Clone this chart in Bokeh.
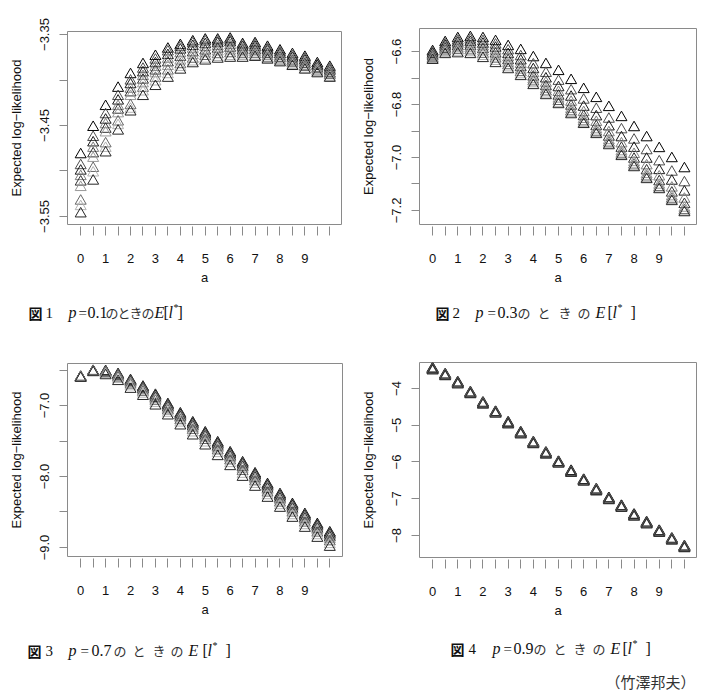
from bokeh.plotting import figure
from bokeh.models import FixedTicker, ColumnDataSource, Range1d
from bokeh.core.properties import value
from bokeh.layouts import column, row
from bokeh.embed import file_html
from bokeh.resources import INLINE

# ---------------- data ----------------
a_values = [0, 0.5, 1, 1.5, 2, 2.5, 3, 3.5, 4, 4.5, 5, 5.5, 6, 6.5, 7, 7.5, 8, 8.5, 9, 9.5, 10]
x_tick_values = a_values
x_tick_labels = ["0", "", "1", "", "2", "", "3", "", "4", "", "5", "", "6", "", "7", "", "8", "", "9", "", ""]

# p = 0.1
loglik_p01 = [
    [-3.482, -3.494, -3.500, -3.506, -3.512, -3.518, -3.533, -3.539, -3.547],
    [-3.452, -3.463, -3.469, -3.475, -3.481, -3.486, -3.497, -3.502, -3.511],
    [-3.429, -3.438, -3.444, -3.449, -3.454, -3.458, -3.470, -3.475, -3.480],
    [-3.409, -3.418, -3.423, -3.429, -3.433, -3.437, -3.446, -3.450, -3.456],
    [-3.394, -3.401, -3.405, -3.410, -3.414, -3.418, -3.428, -3.432, -3.435],
    [-3.383, -3.388, -3.392, -3.396, -3.400, -3.404, -3.409, -3.413, -3.418],
    [-3.374, -3.378, -3.382, -3.386, -3.390, -3.393, -3.398, -3.402, -3.407],
    [-3.366, -3.369, -3.373, -3.377, -3.381, -3.385, -3.390, -3.394, -3.398],
    [-3.362, -3.364, -3.367, -3.371, -3.375, -3.379, -3.383, -3.386, -3.389],
    [-3.358, -3.360, -3.363, -3.366, -3.370, -3.373, -3.377, -3.380, -3.382],
    [-3.356, -3.358, -3.361, -3.364, -3.368, -3.371, -3.374, -3.377, -3.379],
    [-3.356, -3.358, -3.360, -3.363, -3.366, -3.369, -3.372, -3.375, -3.377],
    [-3.355, -3.357, -3.359, -3.362, -3.365, -3.368, -3.371, -3.374, -3.376],
    [-3.361, -3.362, -3.364, -3.366, -3.368, -3.370, -3.372, -3.374, -3.376],
    [-3.360, -3.362, -3.364, -3.366, -3.368, -3.370, -3.372, -3.374, -3.375],
    [-3.364, -3.366, -3.368, -3.370, -3.372, -3.374, -3.376, -3.377, -3.378],
    [-3.368, -3.370, -3.372, -3.374, -3.376, -3.377, -3.379, -3.380, -3.381],
    [-3.372, -3.374, -3.376, -3.378, -3.380, -3.381, -3.382, -3.384, -3.385],
    [-3.375, -3.377, -3.379, -3.381, -3.383, -3.385, -3.386, -3.388, -3.389],
    [-3.382, -3.384, -3.385, -3.387, -3.388, -3.389, -3.391, -3.392, -3.393],
    [-3.386, -3.388, -3.390, -3.391, -3.393, -3.394, -3.395, -3.397, -3.398],
]

# p = 0.3
loglik_p03 = [
    [-6.600, -6.605, -6.610, -6.615, -6.620, -6.625, -6.628, -6.631, -6.633],
    [-6.566, -6.574, -6.580, -6.586, -6.591, -6.596, -6.601, -6.606, -6.611],
    [-6.551, -6.560, -6.568, -6.575, -6.582, -6.589, -6.595, -6.602, -6.608],
    [-6.547, -6.556, -6.565, -6.573, -6.581, -6.589, -6.597, -6.604, -6.611],
    [-6.551, -6.562, -6.572, -6.582, -6.592, -6.601, -6.610, -6.618, -6.626],
    [-6.562, -6.575, -6.587, -6.598, -6.609, -6.619, -6.628, -6.637, -6.645],
    [-6.581, -6.597, -6.611, -6.623, -6.634, -6.644, -6.653, -6.661, -6.668],
    [-6.596, -6.619, -6.635, -6.648, -6.660, -6.670, -6.679, -6.687, -6.694],
    [-6.623, -6.650, -6.668, -6.683, -6.696, -6.706, -6.714, -6.721, -6.728],
    [-6.649, -6.682, -6.703, -6.719, -6.732, -6.743, -6.752, -6.760, -6.766],
    [-6.675, -6.712, -6.736, -6.754, -6.768, -6.779, -6.788, -6.795, -6.800],
    [-6.709, -6.748, -6.772, -6.791, -6.806, -6.818, -6.827, -6.833, -6.838],
    [-6.743, -6.783, -6.810, -6.830, -6.845, -6.856, -6.865, -6.871, -6.875],
    [-6.777, -6.818, -6.846, -6.867, -6.883, -6.895, -6.904, -6.909, -6.913],
    [-6.811, -6.855, -6.884, -6.906, -6.923, -6.936, -6.945, -6.951, -6.955],
    [-6.849, -6.895, -6.925, -6.948, -6.965, -6.978, -6.987, -6.992, -6.996],
    [-6.887, -6.934, -6.965, -6.988, -7.006, -7.019, -7.028, -7.034, -7.038],
    [-6.925, -6.974, -7.006, -7.031, -7.050, -7.064, -7.073, -7.079, -7.083],
    [-6.966, -7.016, -7.049, -7.073, -7.091, -7.104, -7.113, -7.118, -7.121],
    [-7.004, -7.055, -7.089, -7.115, -7.134, -7.148, -7.157, -7.162, -7.166],
    [-7.042, -7.095, -7.130, -7.157, -7.177, -7.191, -7.200, -7.205, -7.208],
]

# p = 0.7
loglik_p07 = [
    [-6.600, -6.602, -6.604, -6.605, -6.607, -6.609, -6.611, -6.613, -6.615],
    [-6.517, -6.519, -6.521, -6.523, -6.525, -6.527, -6.529, -6.532, -6.535],
    [-6.520, -6.524, -6.528, -6.532, -6.537, -6.543, -6.551, -6.563, -6.578],
    [-6.563, -6.568, -6.574, -6.580, -6.588, -6.598, -6.612, -6.632, -6.660],
    [-6.648, -6.655, -6.662, -6.670, -6.680, -6.692, -6.710, -6.735, -6.770],
    [-6.740, -6.748, -6.757, -6.767, -6.778, -6.792, -6.812, -6.838, -6.870],
    [-6.855, -6.864, -6.874, -6.885, -6.898, -6.915, -6.938, -6.968, -7.005],
    [-6.986, -6.996, -7.007, -7.019, -7.033, -7.051, -7.075, -7.107, -7.145],
    [-7.117, -7.128, -7.140, -7.153, -7.168, -7.187, -7.212, -7.245, -7.286],
    [-7.244, -7.256, -7.269, -7.283, -7.300, -7.321, -7.348, -7.384, -7.427],
    [-7.385, -7.397, -7.410, -7.425, -7.442, -7.463, -7.490, -7.526, -7.568],
    [-7.525, -7.538, -7.552, -7.568, -7.586, -7.608, -7.637, -7.675, -7.718],
    [-7.666, -7.679, -7.693, -7.709, -7.727, -7.749, -7.778, -7.816, -7.859],
    [-7.807, -7.821, -7.836, -7.853, -7.872, -7.896, -7.927, -7.967, -8.010],
    [-7.962, -7.975, -7.989, -8.005, -8.023, -8.045, -8.073, -8.109, -8.150],
    [-8.113, -8.127, -8.142, -8.159, -8.178, -8.201, -8.231, -8.268, -8.305],
    [-8.254, -8.268, -8.283, -8.300, -8.319, -8.342, -8.372, -8.409, -8.446],
    [-8.394, -8.408, -8.423, -8.440, -8.459, -8.483, -8.513, -8.550, -8.587],
    [-8.535, -8.549, -8.564, -8.581, -8.600, -8.624, -8.654, -8.691, -8.728],
    [-8.676, -8.690, -8.705, -8.722, -8.741, -8.765, -8.795, -8.832, -8.869],
    [-8.793, -8.808, -8.824, -8.842, -8.862, -8.887, -8.918, -8.957, -8.996],
]

# p = 0.9
loglik_p09 = [
    [-3.470, -3.480, -3.490, -3.500, -3.515],
    [-3.630, -3.640, -3.650, -3.660, -3.675],
    [-3.850, -3.860, -3.870, -3.880, -3.895],
    [-4.120, -4.130, -4.140, -4.150, -4.165],
    [-4.400, -4.410, -4.420, -4.430, -4.445],
    [-4.650, -4.660, -4.670, -4.680, -4.695],
    [-4.940, -4.950, -4.960, -4.970, -4.985],
    [-5.210, -5.220, -5.230, -5.240, -5.255],
    [-5.480, -5.490, -5.500, -5.510, -5.525],
    [-5.760, -5.770, -5.780, -5.790, -5.805],
    [-6.010, -6.020, -6.030, -6.040, -6.055],
    [-6.260, -6.270, -6.280, -6.290, -6.305],
    [-6.500, -6.510, -6.520, -6.530, -6.545],
    [-6.760, -6.770, -6.780, -6.790, -6.805],
    [-7.000, -7.010, -7.020, -7.030, -7.045],
    [-7.210, -7.220, -7.230, -7.240, -7.255],
    [-7.450, -7.460, -7.470, -7.480, -7.495],
    [-7.660, -7.670, -7.680, -7.690, -7.705],
    [-7.890, -7.900, -7.910, -7.920, -7.935],
    [-8.100, -8.110, -8.120, -8.130, -8.145],
    [-8.310, -8.320, -8.330, -8.340, -8.355],
]

y_ticks_p01 = [-3.55, -3.50, -3.45, -3.40, -3.35]
y_labels_p01 = ["\u22123.55", "", "\u22123.45", "", "\u22123.35"]
y_ticks_p03 = [-7.2, -7.1, -7.0, -6.9, -6.8, -6.7, -6.6]
y_labels_p03 = ["\u22127.2", "", "\u22127.0", "", "\u22126.8", "", "\u22126.6"]
y_ticks_p07 = [-9.0, -8.5, -8.0, -7.5, -7.0, -6.5]
y_labels_p07 = ["\u22129.0", "", "\u22128.0", "", "\u22127.0", ""]
y_ticks_p09 = [-8, -7, -6, -5, -4]
y_labels_p09 = ["\u22128", "\u22127", "\u22126", "\u22125", "\u22124"]

p_values = ["0.1", "0.3", "0.7", "0.9"]
figure_numbers = ["1", "2", "3", "4"]
credit = "（竹澤邦夫）"

grays = ["#000000", "#4d4d4d", "#1a1a1a", "#808080", "#333333", "#999999", "#666666", "#b3b3b3", "#262626"]

SANS = "Liberation Sans"
SERIF = "Liberation Serif"
CJK = "Noto Sans CJK JP"
BOX = "#8a8a8a"
INK = "#111111"


def make_panel(data, x_rng, y_rng, y_ticks, y_labels, frame_w, frame_h,
               b_left, b_right, b_top, b_bottom, lw=1.0):
    p = figure(output_backend="svg", toolbar_location=None,
               frame_width=frame_w, frame_height=frame_h,
               min_border_left=b_left, min_border_right=b_right,
               min_border_top=b_top, min_border_bottom=b_bottom,
               x_range=Range1d(*x_rng), y_range=Range1d(*y_rng),
               background_fill_color="white", border_fill_color="white")
    p.frame_align = False
    xs, ys, cs = [], [], []
    for a, col in zip(a_values, data):
        for i, v in enumerate(col):
            xs.append(a)
            ys.append(v)
            cs.append(grays[i % len(grays)])
    src = ColumnDataSource(dict(x=xs, y=ys, c=cs))
    p.scatter("x", "y", source=src, marker="triangle", size=11,
              fill_color=None, line_color="c", line_width=lw)
    p.grid.visible = False
    p.outline_line_color = BOX
    p.outline_line_width = 1

    xa = p.xaxis[0]
    xa.ticker = FixedTicker(ticks=x_tick_values)
    xa.major_label_overrides = {t: l for t, l in zip(x_tick_values, x_tick_labels)}
    xa.axis_line_color = None
    xa.major_tick_line_color = BOX
    xa.minor_tick_line_color = None
    xa.major_tick_in = -2
    xa.major_tick_out = 11
    xa.major_label_standoff = 18
    xa.major_label_text_font = SANS
    xa.major_label_text_font_size = "13px"
    xa.major_label_text_color = INK
    xa.axis_label = "a"
    xa.axis_label_text_font = SANS
    xa.axis_label_text_font_size = "13px"
    xa.axis_label_text_font_style = "normal"
    xa.axis_label_text_color = INK
    xa.axis_label_standoff = 4

    ya = p.yaxis[0]
    ya.ticker = FixedTicker(ticks=y_ticks)
    ya.major_label_overrides = {t: l for t, l in zip(y_ticks, y_labels)}
    ya.axis_line_color = None
    ya.major_tick_line_color = BOX
    ya.minor_tick_line_color = None
    ya.major_tick_in = 0
    ya.major_tick_out = 8
    ya.major_label_standoff = 10
    ya.major_label_orientation = "vertical"
    ya.major_label_text_font = SANS
    ya.major_label_text_font_size = "13px"
    ya.major_label_text_color = INK
    ya.axis_label = "Expected log\u2212likelihood"
    ya.axis_label_text_font = SANS
    ya.axis_label_text_font_size = "13px"
    ya.axis_label_text_font_style = "normal"
    ya.axis_label_text_color = INK
    ya.axis_label_standoff = 14
    return p


def make_caption(width, height, y, num, pval, pos, footnote=None):
    c = figure(output_backend="svg", toolbar_location=None,
               frame_width=width, frame_height=height,
               min_border_left=0, min_border_right=0, min_border_top=0, min_border_bottom=0,
               x_range=Range1d(0, width), y_range=Range1d(height, 0),
               x_axis_type=None, y_axis_type=None,
               background_fill_color="white", border_fill_color="white")
    c.frame_align = False
    c.grid.visible = False
    c.outline_line_color = None

    def put(x, yy, text, font, size, style="normal", color=INK, align="left"):
        c.text(x=[x], y=[yy], text=[text], text_font=value(font), text_font_size=size,
               text_font_style=style, text_color=color, text_align=align,
               text_baseline="middle")

    put(pos[0], y, "図", CJK, "14px", "bold")
    put(pos[1], y, num, SERIF, "15px")
    put(pos[2], y, "p", SERIF, "16px", "italic")
    put(pos[3], y, "=", SERIF, "15px")
    put(pos[4], y, pval, SERIF, "16px")
    for k, ch in enumerate("のときの"):
        put(pos[5 + k], y, ch, CJK, "13px", "normal", "#333333")
    put(pos[9], y, "E", SERIF, "16px", "italic")
    put(pos[10], y, "[", SERIF, "16px")
    put(pos[11], y, "l", SERIF, "16px", "italic")
    put(pos[12], y - 5, "*", SERIF, "10px")
    put(pos[13], y, "]", SERIF, "16px")
    if footnote is not None:
        put(footnote[0], footnote[1], credit, CJK, "15px", "normal", "#333333", "center")
    return c


p1 = make_panel(loglik_p01, (-0.53, 10.47), (-3.5588, -3.3467), y_ticks_p01, y_labels_p01,
                274, 193, 67, 10, 31, 66)
c1 = make_caption(351, 56, 22, figure_numbers[0], p_values[0],
                  [28, 45, 68, 78, 87, 105, 117, 129, 141, 154, 163, 168, 173, 177])

p2 = make_panel(loglik_p03, (-0.52, 10.48), (-7.253, -6.513), y_ticks_p03, y_labels_p03,
                277, 196, 68, 1, 28, 66)
c2 = make_caption(346, 56, 22, figure_numbers[1], p_values[1],
                  [84, 101, 124, 136, 146, 166, 186, 207, 226, 244, 256, 261, 266, 279])

p3 = make_panel(loglik_p07, (-0.53, 10.51), (-9.127, -6.408), y_ticks_p07, y_labels_p07,
                275, 193, 67, 9, 17, 66)
c3 = make_caption(351, 72, 28, figure_numbers[2], p_values[2],
                  [27, 45, 68, 80, 91, 113, 132, 152, 170, 188, 202, 207, 212, 225])

p4 = make_panel(loglik_p09, (-0.52, 10.48), (-8.599, -3.293), y_ticks_p09, y_labels_p09,
                277, 195, 68, 1, 16, 65, lw=1.3)
c4 = make_caption(346, 72, 26, figure_numbers[3], p_values[3],
                  [99, 117, 141, 152, 162, 182, 202, 222, 241, 259, 271, 276, 281, 294],
                  footnote=(299, 59))

layout = column(
    row(column(p1, c1, spacing=0), column(p2, c2, spacing=0), spacing=0),
    row(column(p3, c3, spacing=0), column(p4, c4, spacing=0), spacing=0),
    spacing=0,
)

with open("out.html", "w") as f:
    f.write(file_html(layout, INLINE))
